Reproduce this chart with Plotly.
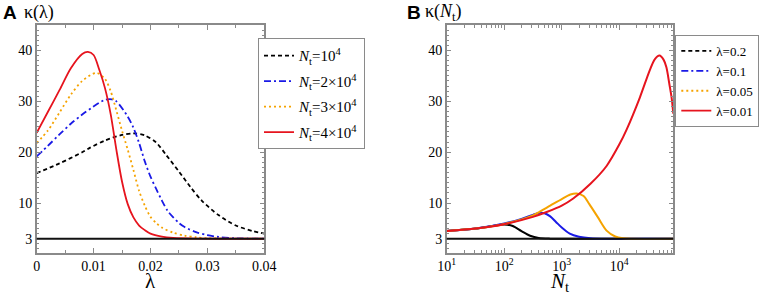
import plotly.graph_objects as go

# ---------- Panel A data: kappa vs lambda ----------
lam_nt1 = [0, 0.004, 0.008, 0.0094, 0.012, 0.015, 0.017, 0.019, 0.021, 0.0228, 0.025, 0.027, 0.029, 0.032, 0.035, 0.038, 0.040]
kap_nt1 = [15.9, 17.8, 20.0, 20.9, 22.3, 23.4, 23.7, 23.3, 21.9, 19.4, 16.2, 13.2, 10.5, 7.6, 5.6, 4.5, 4.0]

lam_nt2 = [0, 0.002, 0.004, 0.006, 0.008, 0.010, 0.012, 0.0132, 0.014, 0.016, 0.017, 0.018, 0.019, 0.020, 0.021, 0.022, 0.023, 0.024, 0.025, 0.026, 0.028, 0.030, 0.032, 0.035, 0.040]
kap_nt2 = [19.2, 21.3, 23.5, 25.6, 27.4, 29.0, 30.3, 30.4, 30.0, 27.0, 24.8, 21.8, 18.2, 15.2, 12.8, 10.5, 8.5, 7.2, 6.1, 5.3, 4.3, 3.7, 3.35, 3.1, 3.02]

lam_nt3 = [0, 0.002, 0.004, 0.006, 0.008, 0.0105, 0.012, 0.013, 0.014, 0.015, 0.016, 0.017, 0.018, 0.019, 0.020, 0.021, 0.022, 0.024, 0.026, 0.028, 0.030, 0.035, 0.040]
kap_nt3 = [21.8, 24.3, 27.8, 31.3, 34.0, 35.6, 34.4, 32.0, 28.2, 24.2, 20.5, 16.5, 12.4, 9.5, 7.3, 6.1, 5.2, 4.2, 3.6, 3.3, 3.1, 3.02, 3.0]

lam_nt4 = [0, 0.002, 0.004, 0.006, 0.008, 0.009, 0.010, 0.011, 0.012, 0.013, 0.014, 0.015, 0.016, 0.017, 0.018, 0.019, 0.020, 0.022, 0.024, 0.028, 0.040]
kap_nt4 = [23.8, 28.0, 32.2, 36.5, 39.3, 39.7, 39.1, 36.2, 32.6, 27.5, 20.5, 14.2, 9.8, 7.2, 5.6, 4.7, 4.0, 3.4, 3.15, 3.03, 3.0]

labels_A = ["<i>N</i><sub>t</sub>=10<sup>4</sup>", "<i>N</i><sub>t</sub>=2×10<sup>4</sup>",
            "<i>N</i><sub>t</sub>=3×10<sup>4</sup>", "<i>N</i><sub>t</sub>=4×10<sup>4</sup>"]

# ---------- Panel B data: kappa vs N_t ----------
nt_l02 = [10, 32, 63, 100, 141, 200, 282, 398, 631, 1000, 2000, 87096]
kap_l02 = [4.5, 5.0, 5.5, 5.8, 5.5, 4.5, 3.6, 3.15, 3.02, 3.0, 3.0, 3.0]

nt_l01 = [10, 32, 100, 200, 316, 417, 501, 631, 794, 1000, 1380, 1995, 3162, 6310, 87096]
kap_l01 = [4.5, 5.0, 6.0, 6.9, 7.7, 8.1, 8.0, 7.4, 6.3, 5.2, 4.0, 3.4, 3.1, 3.0, 3.0]

nt_l005 = [10, 32, 100, 316, 398, 631, 1000, 1413, 1820, 2399, 3020, 4266, 6026, 8511, 11749, 15849, 87096]
kap_l005 = [4.5, 5.0, 5.9, 7.6, 8.2, 9.5, 10.8, 11.7, 11.9, 11.4, 9.8, 7.2, 4.6, 3.45, 3.1, 3.0, 3.0]

nt_l001 = [10, 32, 100, 316, 562, 1000, 1585, 3162, 6026, 10000, 13490, 22909, 33884, 41687, 50119, 58884, 66069, 74131, 81283, 87096]
kap_l001 = [4.5, 5.0, 5.85, 7.3, 8.3, 9.5, 10.9, 13.8, 17.3, 21.5, 24.5, 30.8, 36.1, 38.3, 39.0, 38.2, 36.7, 33.5, 30.8, 27.6]

labels_B = ["λ=0.2", "λ=0.1", "λ=0.05", "λ=0.01"]

BLACK = "#000000"
BLUE = "#1a1ae6"
ORANGE = "#f5a300"
RED = "#e6141e"
GRAY = "#8a8a8a"
SERIF = "Liberation Serif, Times New Roman, serif"

# figure size (page body margin removed via post_script)
OFF = 0
W, H = 765, 298


def px(x):
    return (x - OFF) / W


def py(y):
    return 1 - (y - OFF) / H


DASH = "4px,3px"
DASHDOT = "7px,3px,2px,3px"
DOT = "2px,3px"

fig = go.Figure()

# Panel A traces
for i, (xs, ys, col, dash, name) in enumerate([
    (lam_nt1, kap_nt1, BLACK, DASH, labels_A[0]),
    (lam_nt2, kap_nt2, BLUE, DASHDOT, labels_A[1]),
    (lam_nt3, kap_nt3, ORANGE, DOT, labels_A[2]),
    (lam_nt4, kap_nt4, RED, "solid", labels_A[3]),
]):
    fig.add_trace(go.Scatter(x=xs, y=ys, mode="lines", name=name, legendgroup="a%d" % i,
                             line=dict(color=col, dash=dash, width=1.8, shape="spline", smoothing=0.8),
                             xaxis="x", yaxis="y", legend="legend"))

# Panel B traces (solid in plot)
for xs, ys, col in [
    (nt_l02, kap_l02, BLACK),
    (nt_l01, kap_l01, BLUE),
    (nt_l005, kap_l005, ORANGE),
    (nt_l001, kap_l001, RED),
]:
    fig.add_trace(go.Scatter(x=xs, y=ys, mode="lines", showlegend=False,
                             line=dict(color=col, width=2, shape="spline", smoothing=0.8),
                             xaxis="x2", yaxis="y2"))

# Panel B legend entries (styled)
for col, dash, name in [(BLACK, DASH, labels_B[0]), (BLUE, DASHDOT, labels_B[1]),
                        (ORANGE, DOT, labels_B[2]), (RED, "solid", labels_B[3])]:
    fig.add_trace(go.Scatter(x=[None], y=[None], mode="lines", name=name,
                             line=dict(color=col, dash=dash, width=1.8),
                             xaxis="x2", yaxis="y2", legend="legend2"))

for xr, yr in [("x domain", "y"), ("x2 domain", "y2")]:
    fig.add_shape(type="line", x0=0, x1=1, xref=xr, y0=3, y1=3, yref=yr,
                  line=dict(color="#111111", width=1.8))

axis_common = dict(showline=True, linecolor=GRAY, linewidth=1.5, mirror="allticks",
                   ticks="inside", tickcolor=GRAY, tickwidth=1.2, showgrid=False, zeroline=False,
                   tickfont=dict(family=SERIF, size=14, color="black"))

yd = [py(252.5), py(25)]
fig.update_layout(
    width=W, height=H,
    margin=dict(l=0, r=0, t=0, b=0, autoexpand=False),
    paper_bgcolor="white", plot_bgcolor="white",
    xaxis=dict(domain=[px(36.7), px(264.3)], range=[0, 0.04], tickvals=[0, 0.01, 0.02, 0.03, 0.04],
               ticktext=["0", "0.01", "0.02", "0.03", "0.04"], ticklen=5,
               minor=dict(dtick=0.005, tick0=0, ticklen=3, ticks="inside", tickcolor=GRAY),
               anchor="y", **axis_common),
    yaxis=dict(domain=yd, range=[0.3, 45], tickvals=[3, 10, 20, 30, 40], ticklen=5,
               minor=dict(dtick=1, tick0=0, ticklen=3, ticks="inside", tickcolor=GRAY),
               anchor="x", **axis_common),
    xaxis2=dict(domain=[px(446.7), px(673.3)], type="log", range=[1, 4.94],
                tickvals=[10, 100, 1000, 10000],
                ticktext=["10<sup>1</sup>", "10<sup>2</sup>", "10<sup>3</sup>", "10<sup>4</sup>"],
                ticklen=5, minor=dict(dtick="D1", ticklen=3, ticks="inside", tickcolor=GRAY),
                anchor="y2", **axis_common),
    yaxis2=dict(domain=yd, range=[0.3, 45], tickvals=[3, 10, 20, 30, 40], ticklen=5,
                minor=dict(dtick=1, tick0=0, ticklen=3, ticks="inside", tickcolor=GRAY),
                anchor="x2", **axis_common),
    legend=dict(x=px(365), y=py(38.3), xanchor="right", yanchor="top", bordercolor=GRAY, borderwidth=1,
                bgcolor="white", font=dict(family=SERIF, size=15, color="black"),
                itemwidth=30, tracegroupgap=3),
    legend2=dict(x=px(759.3), y=py(35), xanchor="right", yanchor="top", bordercolor=GRAY, borderwidth=1,
                 bgcolor="white", font=dict(family=SERIF, size=13, color="black"),
                 itemwidth=30, tracegroupgap=0),
    showlegend=True,
)

annos = [
    dict(text="<b>A</b>", x=1, y=13, font=dict(family="Liberation Sans", size=19, color="black")),
    dict(text="κ(λ)", x=22, y=13, font=dict(family=SERIF, size=18, color="black")),
    dict(text="<b>B</b>", x=405, y=13, font=dict(family="Liberation Sans", size=19, color="black")),
    dict(text="κ(<i>N</i><sub>t</sub>)", x=423, y=13, font=dict(family=SERIF, size=18, color="black")),
]
for a in annos:
    fig.add_annotation(text=a["text"], x=px(a["x"]), y=py(a["y"]), xref="paper", yref="paper",
                       xanchor="left", yanchor="middle", showarrow=False, font=a["font"])

fig.add_annotation(text="λ", x=px(150), y=py(281), xref="paper", yref="paper",
                   xanchor="center", yanchor="middle", showarrow=False,
                   font=dict(family=SERIF, size=21, color="black"))
fig.add_annotation(text="<i>N</i><sub>t</sub>", x=px(559), y=py(282), xref="paper", yref="paper",
                   xanchor="center", yanchor="middle", showarrow=False,
                   font=dict(family=SERIF, size=21, color="black"))

fig.write_html("out.html", config={"displayModeBar": False},
               post_script="document.body.style.margin='0px';")
